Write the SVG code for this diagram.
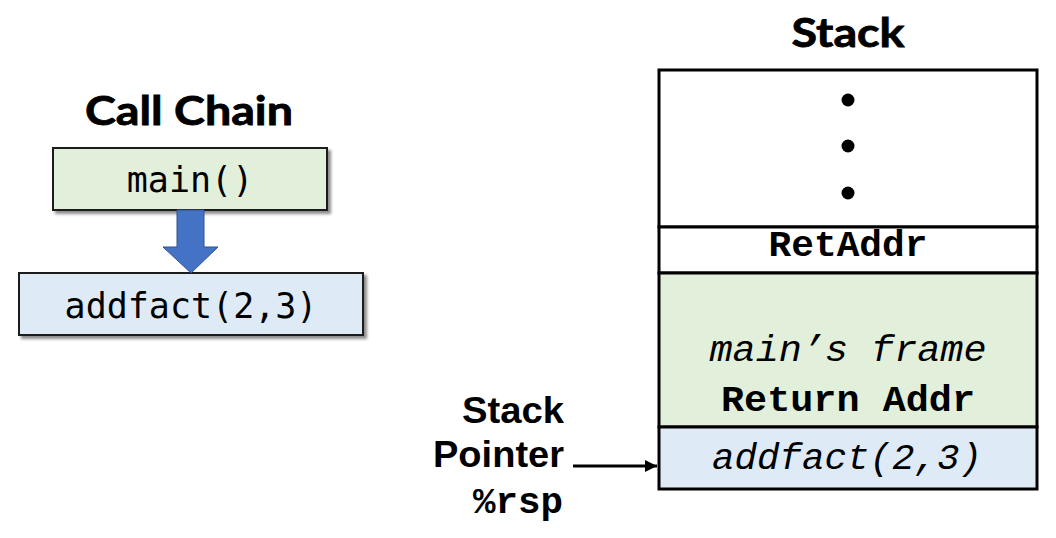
<svg xmlns="http://www.w3.org/2000/svg" width="1056" height="538" viewBox="0 0 1056 538">
  <style>
    .title { font-family: Lato, "Open Sans", "Liberation Sans", sans-serif; font-weight: bold; font-size: 40px; fill: #000; stroke: #000; stroke-width: 0.8; text-anchor: middle; }
    .cc { font-family: "DejaVu Sans Mono", "Liberation Mono", monospace; font-size: 35px; fill: #000; text-anchor: middle; }
    .mono { font-family: "Liberation Mono", "Courier New", monospace; font-size: 37px; fill: #000; text-anchor: middle; }
    .it { font-style: italic; }
    .bd { font-weight: bold; }
    .sp { font-family: "Liberation Sans", Arial, sans-serif; font-weight: bold; font-size: 37px; fill: #000; text-anchor: end; }
    .ccbox { stroke: #1a1a1a; stroke-width: 2; }
    .cell { stroke: #000; stroke-width: 3; }
  </style>
  <defs>
    <filter id="shadow" x="-10%" y="-20%" width="125%" height="150%">
      <feDropShadow dx="3" dy="3" stdDeviation="1.5" flood-color="#000" flood-opacity="0.45"/>
    </filter>
    <marker id="arrow" viewBox="0 0 12 12" refX="12" refY="6" markerWidth="12" markerHeight="12" markerUnits="userSpaceOnUse" orient="auto">
      <path d="M0,0 L12,6 L0,12 Z" fill="#000"/>
    </marker>
  </defs>
  <rect width="1056" height="538" fill="#fff"/>

  <g id="call-chain-title">
    <text class="title" x="189" y="125" textLength="208" lengthAdjust="spacingAndGlyphs">Call Chain</text>
  </g>
  <g id="node-main">
    <rect class="ccbox" x="53" y="148" width="274" height="62" fill="#e2efda" filter="url(#shadow)"/>
    <text class="cc" x="190" y="192">main()</text>
  </g>
  <g id="node-addfact">
    <rect class="ccbox" x="19" y="273" width="344" height="62" fill="#deebf7" filter="url(#shadow)"/>
    <text class="cc" x="191" y="318">addfact(2,3)</text>
  </g>

  <g id="stack-title">
    <text class="title" x="848" y="47" textLength="113" lengthAdjust="spacingAndGlyphs">Stack</text>
  </g>
  <g id="stack-top">
    <rect class="cell" x="659" y="70" width="378" height="157" fill="#fff"/>
    <circle cx="848" cy="100" r="6.5" fill="#000"/>
    <circle cx="848" cy="146" r="6.5" fill="#000"/>
    <circle cx="848" cy="193" r="6.5" fill="#000"/>
  </g>
  <g id="stack-retaddr">
    <rect class="cell" x="659" y="227" width="378" height="46" fill="#fff"/>
    <text class="mono bd" x="848" y="256" textLength="159" lengthAdjust="spacingAndGlyphs">RetAddr</text>
  </g>
  <g id="stack-main-frame">
    <rect class="cell" x="659" y="273" width="378" height="154" fill="#e2efda"/>
    <text class="mono it" x="848" y="361" textLength="277" lengthAdjust="spacingAndGlyphs">main’s frame</text>
    <text class="mono bd" x="848" y="411" textLength="254" lengthAdjust="spacingAndGlyphs">Return Addr</text>
  </g>
  <g id="stack-addfact">
    <rect class="cell" x="659" y="427" width="378" height="62" fill="#deebf7"/>
    <text class="mono it" x="847" y="469" textLength="270" lengthAdjust="spacingAndGlyphs">addfact(2,3)</text>
  </g>

  <g id="stack-pointer-label">
    <text class="sp" x="564" y="423" textLength="102" lengthAdjust="spacingAndGlyphs">Stack</text>
    <text class="sp" x="564" y="467" textLength="131" lengthAdjust="spacingAndGlyphs">Pointer</text>
    <text class="mono bd" x="518" y="513" textLength="90" lengthAdjust="spacingAndGlyphs">%rsp</text>
  </g>

  <g id="connectors">
    <polygon points="177,210 204,210 204,247 218,247 191,273 163,247 177,247" fill="#4472c4" stroke="#2f528f" stroke-width="1"/>
    <line x1="573" y1="466" x2="657" y2="466" stroke="#000" stroke-width="3" marker-end="url(#arrow)"/>
  </g>
</svg>
